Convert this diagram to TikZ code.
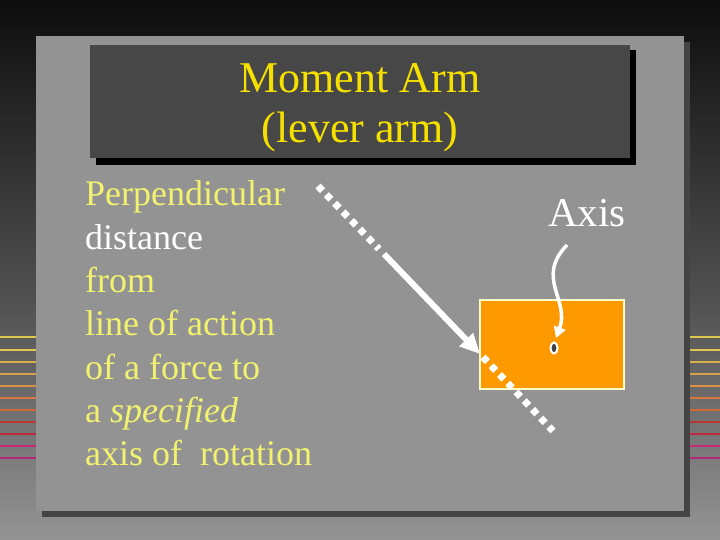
\documentclass[tikz,border=0pt]{standalone}
\usepackage{fontspec}
\setmainfont{Liberation Serif}
\usepackage{tikz}
\usetikzlibrary{arrows.meta, shapes.geometric}
\definecolor{panelgray}{HTML}{939393}
\definecolor{shadowgray}{HTML}{444444}
\definecolor{titlegray}{HTML}{474747}
\definecolor{titleyellow}{HTML}{F5E000}
\definecolor{textyellow}{HTML}{F2F26E}
\definecolor{blockorange}{HTML}{FF9900}
\definecolor{blockedge}{HTML}{FFFFCC}
\tikzset{forcedots/.style={white, line width=7pt, dash pattern=on 6.5pt off 5.5pt},
         bodytext/.style={anchor=base west, inner sep=0pt, text=textyellow, font=\fontsize{36}{43}\selectfont},
         stripe/.style={line width=2.2pt}}

\begin{document}
\begin{tikzpicture}[x=1pt,y=-1pt]
\useasboundingbox (0,0) rectangle (720,540);
\shade[top color=black!95!white, bottom color=black!45!panelgray] (0,0) rectangle (720,300);
\shade[top color=black!45!panelgray, bottom color=panelgray] (0,300) rectangle (720,540);
\foreach \y/\c in {337/DCC84C,350/E0C850,362/D8B048,374/D8A050,386/D89048,398/D87840,410/D06838,422/B83830,434/C02840,446/C82878,458/B02878}{
  \definecolor{stripecol}{HTML}{\c}
  \draw[stripe, stripecol] (0,\y) -- (36,\y);
  \draw[stripe, stripecol] (690,\y) -- (720,\y);
}
\fill[shadowgray] (42,42) rectangle (690,517);
\fill[panelgray] (36,36) rectangle (684,511);
\fill[black] (96,50) rectangle (636,165);
\fill[titlegray] (90,45) rectangle (630,158);
\node[anchor=base, inner sep=0pt, text=titleyellow, font=\fontsize{44}{50}\selectfont] (title1) at (360,92.5) {Moment Arm};
\node[anchor=base, inner sep=0pt, text=titleyellow, font=\fontsize{44}{50}\selectfont] (title2) at (360,143) {(lever arm)};
\foreach \i/\txt in {1/Perpendicular,2/{\color{white}distance},3/from,4/line of action,5/of a force to,6/{a \textit{specified}},7/{axis of~ rotation}}{
  \node[bodytext] (line\i) at (85,{206+43.3*(\i-1)}) {\txt};
}
\node[anchor=base west, inner sep=0pt, text=white, font=\fontsize{41}{48}\selectfont] (axislabel) at (548,226) {Axis};
\node[draw=blockedge, line width=2pt, fill=blockorange, minimum width=144pt, minimum height=89pt, inner sep=0pt] (block) at (552,344.5) {};
\node[draw=white, line width=2pt, fill=black!75, ellipse, minimum width=7pt, minimum height=11pt, inner sep=0pt] (pivot) at (554,348) {};
\coordinate (f1) at (318,186);
\coordinate (f2) at (379,249);
\coordinate (f3) at (384,254);
\coordinate (f4) at (480,354);
\coordinate (f5) at (483,357);
\coordinate (f6) at (553,431);
\draw[forcedots] (f1) -- (f2);
\draw[forcedots] (f5) -- (f6);
\draw[white, line width=6pt, -{Triangle[length=20pt,width=18pt]}] (f3) -- (f4);
\coordinate (bend) at (567,245);
\draw[white, line width=3.5pt, -{Triangle[length=11pt,width=12pt]}] (bend) .. controls (535,278) and (570,300) .. (556,338);
\end{tikzpicture}
\end{document}
